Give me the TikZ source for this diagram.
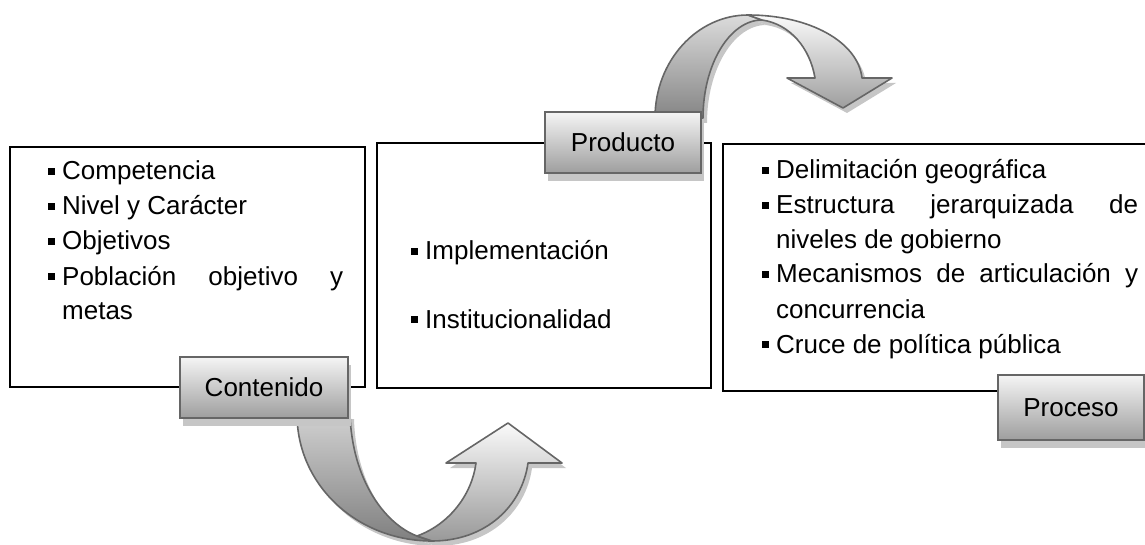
\documentclass[tikz,border=0pt]{standalone}
\usepackage{fontspec}
\setmainfont{Liberation Sans}
\usetikzlibrary{shadows}
\definecolor{edge}{HTML}{666666}
\definecolor{shadowgray}{HTML}{C6C6C6}
\newcommand{\sqbullet}{\rule[5pt]{7pt}{7pt}\hspace{7pt}}

% outlines of the two curved arrows (back band and front band with head)
\def\lowBack{(297,414) -- (350,414) .. controls (352,480) and (385,524) .. (417,536) -- (432,541) .. controls (358,541) and (297,486) .. cycle}
\def\lowFront{(417,536) .. controls (450,524) and (472,494) .. (476,463) -- (446,463) -- (508,423) -- (562,463) -- (528,463) .. controls (522,506) and (486,541) .. (432,541) -- cycle}
\def\highBack{(655,118) .. controls (655,61) and (697,15) .. (748,15) -- (762,20) .. controls (730,20) and (703,64) .. (703,118) -- cycle}
\def\highFront{(748,15) .. controls (810,15) and (858,42) .. (862,78) -- (892,78) -- (843,108) -- (787,78) -- (815,78) .. controls (810,48) and (790,24) .. (762,20) -- cycle}

\begin{document}
\begin{tikzpicture}[x=1pt,y=-1pt,
  txt/.style={anchor=base west, inner sep=0pt, font=\fontsize{26}{30}\selectfont},
  panel/.style={draw=black, line width=2pt, fill=white},
  tag/.style={draw=edge, line width=2pt, top color=black!4, bottom color=black!38,
    inner sep=0pt, font=\fontsize{26}{30}\selectfont,
    general shadow={fill=shadowgray, shadow xshift=3pt, shadow yshift=-8pt}},
  band/.style={draw=edge, line width=1.6pt, line join=round},
  bandshadow/.style={fill=shadowgray},
]
\useasboundingbox (0,0) rectangle (1145,545);
\clip (0,0) rectangle (1145,545);

% three content panels
\draw[panel] (10,147) rectangle (365,387);
\draw[panel] (377,143) rectangle (711,388);
\draw[panel] (723,144) rectangle (1160,391);

% first panel
\node[txt] (c1) at (48,180) {\sqbullet Competencia};
\node[txt] (c2) at (48,215) {\sqbullet Nivel y Carácter};
\node[txt] (c3) at (48,250) {\sqbullet Objetivos};
\node[txt] (c4) at (48,285) {\hbox to 295pt{\sqbullet Población\hfill objetivo\hfill y}};
\node[txt] (c5) at (62,319) {metas};

% second panel
\node[txt] (p1) at (411,260) {\sqbullet Implementación};
\node[txt] (p2) at (411,328) {\sqbullet Institucionalidad};

% third panel
\node[txt] (r1) at (762,179) {\sqbullet Delimitación geográfica};
\node[txt] (r2) at (762,214) {\hbox to 376pt{\sqbullet Estructura\hfill jerarquizada\hfill de}};
\node[txt] (r3) at (776,248) {niveles de gobierno};
\node[txt] (r4) at (762,283) {\hbox to 376pt{\sqbullet Mecanismos\hfill de\hfill articulación\hfill y}};
\node[txt] (r5) at (776,318) {concurrencia};
\node[txt] (r6) at (762,353) {\sqbullet Cruce de política pública};

% curved arrows: shadows first
\begin{scope}[shift={(4,5)}]
  \fill[bandshadow] \lowBack;
  \fill[bandshadow] \lowFront;
  \fill[bandshadow] \highBack;
  \fill[bandshadow] \highFront;
\end{scope}

% lower arrow
\draw[band, top color=black!18, bottom color=black!50] \lowBack;
\draw[band, top color=black!2, bottom color=black!40] \lowFront;

% upper arrow
\draw[band, top color=black!14, bottom color=black!48] \highBack;
\draw[band, top color=black!2, bottom color=black!38] \highFront;

% stage labels
\node[tag, minimum width=156pt, minimum height=61pt] (producto) at (623,142.5) {Producto};
\node[tag, minimum width=168pt, minimum height=61pt] (contenido) at (264,387.5) {Contenido};
\node[tag, minimum width=146pt, minimum height=65pt] (proceso) at (1071,407.5) {Proceso};
\end{tikzpicture}
\end{document}
